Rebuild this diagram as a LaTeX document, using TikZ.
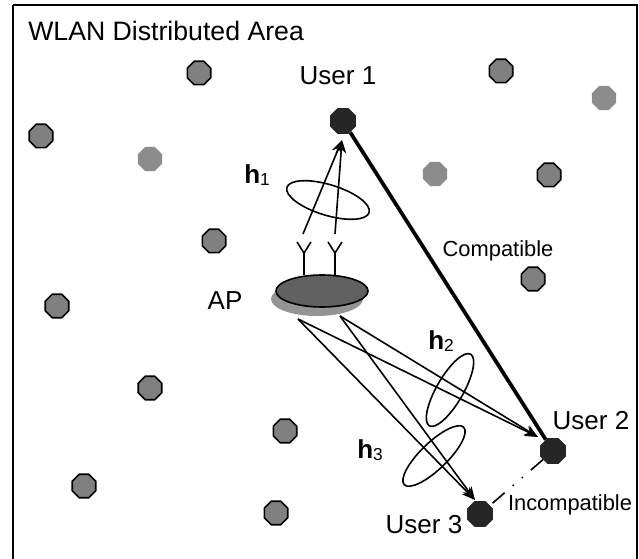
\documentclass[tikz,border=0pt]{standalone}
\usepackage{fontspec}
\setmainfont{Liberation Sans}
\usetikzlibrary{shapes.geometric,arrows.meta}
\tikzset{
station/.style={regular polygon,regular polygon sides=8,minimum size=19,inner sep=0pt,fill=black!50,draw=black,line width=1.2pt,line join=round},
faded/.style={regular polygon,regular polygon sides=8,minimum size=19.5,inner sep=0pt,fill=black!45},
user/.style={regular polygon,regular polygon sides=8,minimum size=21,inner sep=0pt,fill=black!85},
channel/.style={ellipse,draw,line width=1.2pt,inner sep=0pt},
link/.style={line width=1.2pt,-{Stealth[length=10pt,width=8pt]}},
big/.style={font=\fontsize{19.5}{22}\selectfont},
small/.style={font=\fontsize{16.4}{20}\selectfont},
}
\begin{document}
\begin{tikzpicture}[x=.75pt,y=-.75pt]
\useasboundingbox (0,0) rectangle (639,559);
\draw[line width=1.5pt] (13,5)--(637,5)--(637,559) (13,5)--(13,559);
\node[font=\fontsize{20}{24}\selectfont,anchor=west,inner sep=0pt] (title) at(28,31) {WLAN Distributed Area};
\foreach \x/\y [count=\i] in {199/73,501/71,41/136,549/175,214/241,533/279,57/306,150/388,285/431,84/486,276/513}
\node[station] (s\i) at(\x,\y) {};
\foreach \x/\y [count=\i] in {604/98,150/159,435/174}
\node[faded] (f\i) at(\x,\y) {};
\node[user] (U1) at(343,121) {};
\node[user] (U2) at(553,451) {};
\node[user] (U3) at(480,514) {};
\node[big] (L1) at(338,76) {User 1};
\node[big] (L2) at(591,421) {User 2};
\node[big] (L3) at(424,525) {User 3};
\node[big] (Lap) at(225,301) {AP};
\node[small] (Lc) at(498,251) {Compatible};
\node[small] (Li) at(570,505) {Incompatible};
\node[big,anchor=west,inner sep=0pt] (h1) at(244,175) {\textbf{h}\fontsize{13}{15}\selectfont\raisebox{-1pt}{1}};
\node[big,anchor=west,inner sep=0pt] (h2) at(428,341) {\textbf{h}\fontsize{13}{15}\selectfont\raisebox{-1pt}{2}};
\node[big,anchor=west,inner sep=0pt] (h3) at(357,450) {\textbf{h}\fontsize{13}{15}\selectfont\raisebox{-1pt}{3}};
% antenna
\node[ellipse,fill=black!42,minimum width=69,minimum height=25.5,inner sep=0pt] (APb) at(317,299) {};
\node[ellipse,fill=black!62,draw=black,line width=1.2pt,minimum width=69,minimum height=24,inner sep=0pt] (AP) at(322,291) {};
\coordinate (A1) at(304,253);
\coordinate (A2) at(335,253);
\coordinate (T1) at(303,234);
\coordinate (T2) at(335,234);
\coordinate (Tip) at(342,140);
\foreach \p in{A1,A2}{
\draw[line width=1.2pt] (\p)--++(0,22) (\p)--++(-7,-11) (\p)--++(7,-11);
}
\draw[link] (T1)--(Tip);
\draw[link] (T2)--(Tip);
\node[channel,minimum width=64.5,minimum height=23,rotate=-17] (c1) at(328,200) {};
\node[channel,minimum width=62,minimum height=20,rotate=60] (c2) at(450,390) {};
\node[channel,minimum width=62,minimum height=20,rotate=44] (c3) at(434,456) {};
\coordinate (S1) at(298,319);
\coordinate (S2) at(340,316);
\coordinate (E2) at(538,437);
\coordinate (E3) at(475,500);
\foreach \s in{S1,S2}
\foreach \e in{E2,E3}
\draw[link] (\s)--(\e);
\draw[line width=2.8pt] (U1)--(U2);
\draw[line width=1.2pt,dash pattern=on 12pt off 8pt on 1pt off 8pt on 1pt off 8pt on 12pt] (U2)--(U3);
\end{tikzpicture}
\end{document}
